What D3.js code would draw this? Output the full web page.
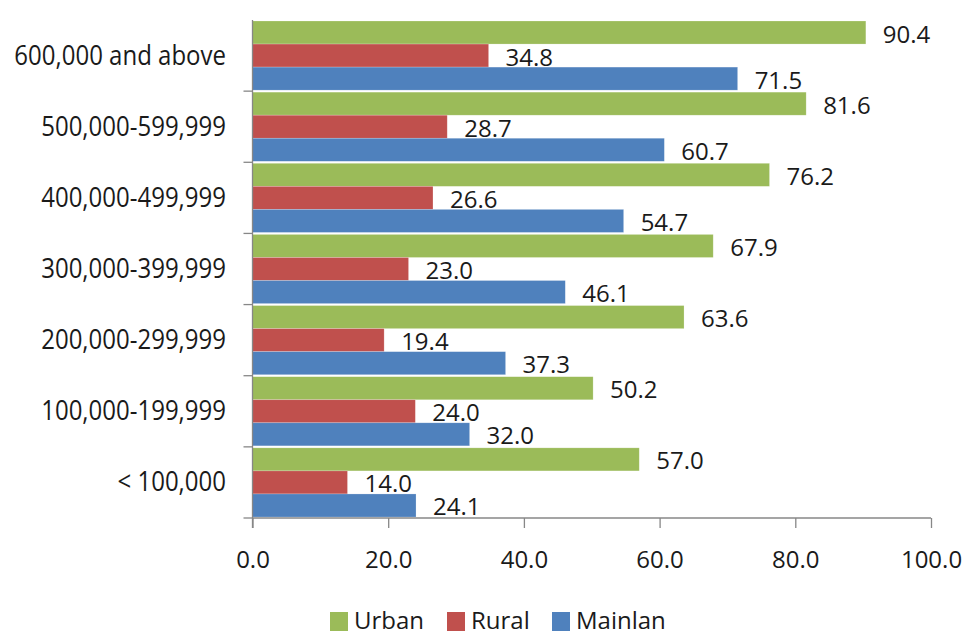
<!DOCTYPE html>
<html><head><meta charset="utf-8">
<script src="https://cdn.jsdelivr.net/npm/d3@7"></script>
<style>body{margin:0;background:#fff;}svg{display:block;font-family:"Open Sans",sans-serif;}</style>
</head><body><svg id="c" width="965" height="637"></svg>
<script>
const categories = ["600,000 and above","500,000-599,999","400,000-499,999","300,000-399,999","200,000-299,999","100,000-199,999","< 100,000"];
const seriesNames = ["Urban","Rural","Mainlan"];
const urban = [90.4, 81.6, 76.2, 67.9, 63.6, 50.2, 57.0];
const rural = [34.8, 28.7, 26.6, 23.0, 19.4, 24.0, 14.0];
const mainlan = [71.5, 60.7, 54.7, 46.1, 37.3, 32.0, 24.1];
const xTicks = [0, 20, 40, 60, 80, 100];
const colors = ["#9BBB59", "#C0504D", "#4F81BD"];

(function () {
const seriesVals = [urban, rural, mainlan];
const svg = d3.select("#c");
const mLeft = 252.5, mRight = 931, mTop = 20, mBottom = 518;
const x = d3.scaleLinear().domain([0, 100]).range([mLeft, mRight]);
const y = d3.scaleBand().domain(categories).range([mTop, mBottom]).paddingInner(0.028).paddingOuter(0.014);
const y1 = d3.scaleBand().domain(seriesNames).range([0, y.bandwidth()]);
const textColor = "#1a1a1a", axisColor = "#878787";

const groups = svg.append("g").selectAll("g").data(categories).join("g")
  .attr("transform", d => `translate(0,${y(d)})`);

seriesNames.forEach((s, si) => {
  groups.append("rect")
    .attr("x", x(0))
    .attr("y", y1(s))
    .attr("width", (d, i) => x(seriesVals[si][i]) - x(0))
    .attr("height", y1.bandwidth())
    .attr("fill", colors[si])
    .attr("stroke", "rgba(255,255,255,0.35)").attr("stroke-width", 0.6);
  groups.append("text")
    .attr("x", (d, i) => x(seriesVals[si][i]) + 17)
    .attr("y", y1(s) + y1.bandwidth() - 1.5)
    .attr("font-size", 24).attr("fill", textColor)
    .text((d, i) => seriesVals[si][i].toFixed(1));
});

// y axis
const yb = d3.scaleLinear().domain([0, categories.length]).range([mTop, mBottom]);
svg.append("line").attr("x1", mLeft).attr("x2", mLeft).attr("y1", mTop).attr("y2", mBottom + 10)
  .attr("stroke", axisColor).attr("stroke-width", 1.3);
svg.append("g").selectAll("line").data(d3.range(1, categories.length + 1)).join("line")
  .attr("x1", mLeft - 9).attr("x2", mLeft).attr("y1", d => yb(d)).attr("y2", d => yb(d))
  .attr("stroke", axisColor).attr("stroke-width", 1.3);
svg.append("g").selectAll("text").data(categories).join("text")
  .attr("text-anchor", "end").attr("font-size", 24).attr("fill", textColor)
  .attr("transform", d => `translate(226,${y(d) + y.bandwidth() / 2 + 9}) scale(1,1.15)`)
  .text(d => d);

// x axis
const xAxis = d3.axisBottom(x).tickValues(xTicks).tickFormat(d3.format(".1f")).tickSize(10).tickPadding(23);
const gx = svg.append("g").attr("transform", `translate(0,${mBottom})`).call(xAxis);
gx.select(".domain").attr("stroke", axisColor).attr("stroke-width", 1.3).attr("d", `M${mLeft},0H${mRight}`);
gx.selectAll(".tick line").attr("stroke", axisColor).attr("stroke-width", 1.3);
gx.selectAll(".tick text").attr("font-size", 24).attr("fill", textColor).attr("font-family", "Open Sans");

// legend
const legendX = [330, 447, 552];
const lg = svg.append("g").selectAll("g").data(seriesNames).join("g")
  .attr("transform", (d, i) => `translate(${legendX[i]},612)`);
lg.append("rect").attr("width", 18).attr("height", 19).attr("fill", (d, i) => colors[i]);
lg.append("text").attr("x", 24).attr("y", 16.5).attr("font-size", 24).attr("fill", textColor)
  .text(d => d);
})();
</script></body></html>
